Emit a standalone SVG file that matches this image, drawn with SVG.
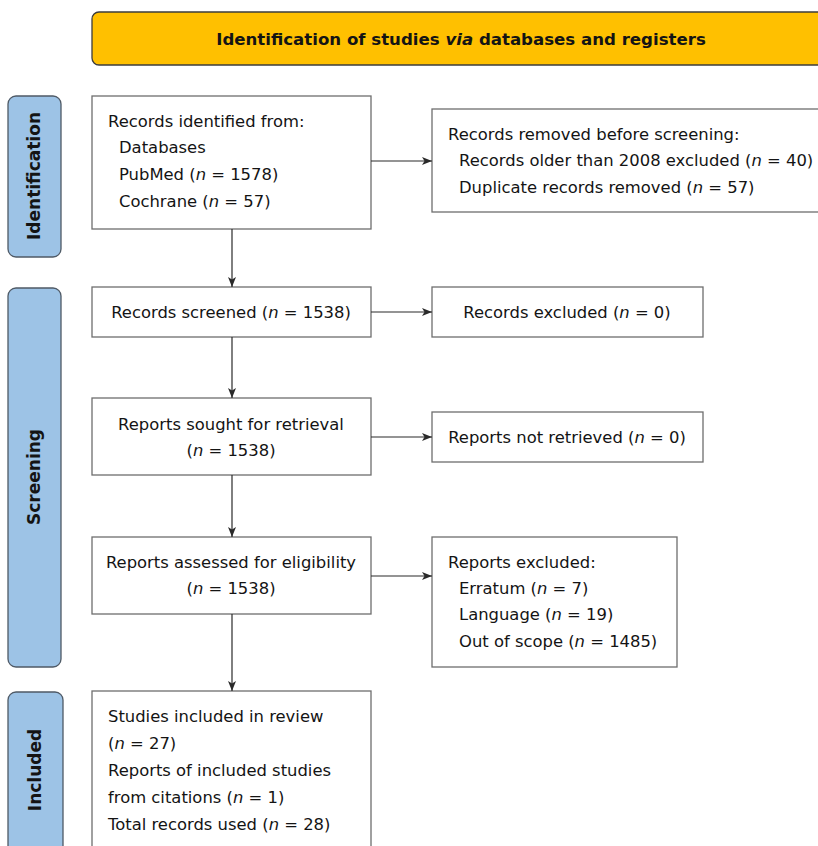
<svg xmlns="http://www.w3.org/2000/svg" width="818" height="846" viewBox="0 0 818 846">
<style>
.box{fill:#fff;stroke:#6e6e6e;stroke-width:1.3}
.bar{fill:#9dc3e6;stroke:#4f5a66;stroke-width:1.3}
.hdr{fill:#ffc000;stroke:#3c3c3c;stroke-width:1.3}
.t{font-family:"DejaVu Sans",Verdana,sans-serif;font-size:16.4px;fill:#141414}
.c{text-anchor:middle}
.b{font-family:"DejaVu Sans",Verdana,sans-serif;font-weight:bold;fill:#141414}
.conn{stroke:#2a2a2a;stroke-width:1.2;fill:none}
</style>
<defs>
<marker id="ah" markerWidth="10" markerHeight="8" refX="10" refY="4" orient="auto" markerUnits="userSpaceOnUse">
<path d="M0,0 L10,4 L0,8 L2.5,4 Z" fill="#2a2a2a"/>
</marker>
</defs>
<g id="header">
<rect class="hdr" x="92" y="12" width="740" height="53" rx="7"/>
<text class="b" x="461" y="45" font-size="16.6" text-anchor="middle">Identification of studies <tspan font-style="italic">via</tspan> databases and registers</text>
</g>
<g id="bar-identification">
<rect class="bar" x="8" y="96" width="53" height="161" rx="8"/>
<text class="b" font-size="17" text-anchor="middle" transform="translate(40,176) rotate(-90)">Identification</text>
</g>
<g id="bar-screening">
<rect class="bar" x="8" y="288" width="53" height="379" rx="8"/>
<text class="b" font-size="17" text-anchor="middle" transform="translate(40,477) rotate(-90)">Screening</text>
</g>
<g id="bar-included">
<rect class="bar" x="8" y="692" width="55" height="170" rx="8"/>
<text class="b" font-size="17" text-anchor="middle" transform="translate(41,770) rotate(-90)">Included</text>
</g>
<g id="identified">
<rect class="box" x="92" y="96" width="279" height="133"/>
<text class="t" x="108" y="127">Records identified from:</text>
<text class="t" x="119" y="153">Databases</text>
<text class="t" x="119" y="180">PubMed (<tspan font-style="italic">n</tspan> = 1578)</text>
<text class="t" x="119" y="207">Cochrane (<tspan font-style="italic">n</tspan> = 57)</text>
</g>
<g id="removed">
<rect class="box" x="432" y="109" width="400" height="103"/>
<text class="t" x="448" y="140">Records removed before screening:</text>
<text class="t" x="459" y="166">Records older than 2008 excluded (<tspan font-style="italic">n</tspan> = 40)</text>
<text class="t" x="459" y="193">Duplicate records removed (<tspan font-style="italic">n</tspan> = 57)</text>
</g>
<g id="screened">
<rect class="box" x="92" y="287" width="279" height="50"/>
<text class="t c" x="231" y="318">Records screened (<tspan font-style="italic">n</tspan> = 1538)</text>
</g>
<g id="excluded">
<rect class="box" x="432" y="287" width="271" height="50"/>
<text class="t c" x="567" y="318">Records excluded (<tspan font-style="italic">n</tspan> = 0)</text>
</g>
<g id="sought">
<rect class="box" x="92" y="398" width="279" height="77"/>
<text class="t c" x="231" y="430">Reports sought for retrieval</text>
<text class="t c" x="231" y="456">(<tspan font-style="italic">n</tspan> = 1538)</text>
</g>
<g id="notretrieved">
<rect class="box" x="432" y="412" width="271" height="50"/>
<text class="t c" x="567" y="443">Reports not retrieved (<tspan font-style="italic">n</tspan> = 0)</text>
</g>
<g id="assessed">
<rect class="box" x="92" y="537" width="279" height="77"/>
<text class="t c" x="231" y="568">Reports assessed for eligibility</text>
<text class="t c" x="231" y="594">(<tspan font-style="italic">n</tspan> = 1538)</text>
</g>
<g id="reportsexcluded">
<rect class="box" x="432" y="537" width="245" height="130"/>
<text class="t" x="448" y="568">Reports excluded:</text>
<text class="t" x="459" y="594">Erratum (<tspan font-style="italic">n</tspan> = 7)</text>
<text class="t" x="459" y="620">Language (<tspan font-style="italic">n</tspan> = 19)</text>
<text class="t" x="459" y="647">Out of scope (<tspan font-style="italic">n</tspan> = 1485)</text>
</g>
<g id="included">
<rect class="box" x="92" y="691" width="279" height="170"/>
<text class="t" x="108" y="722">Studies included in review</text>
<text class="t" x="108" y="749">(<tspan font-style="italic">n</tspan> = 27)</text>
<text class="t" x="108" y="776">Reports of included studies</text>
<text class="t" x="108" y="803">from citations (<tspan font-style="italic">n</tspan> = 1)</text>
<text class="t" x="108" y="830">Total records used (<tspan font-style="italic">n</tspan> = 28)</text>
</g>
<g id="connectors">
<line class="conn" x1="232" y1="229" x2="232" y2="287" marker-end="url(#ah)"/>
<line class="conn" x1="232" y1="337" x2="232" y2="398" marker-end="url(#ah)"/>
<line class="conn" x1="232" y1="475" x2="232" y2="537" marker-end="url(#ah)"/>
<line class="conn" x1="232" y1="614" x2="232" y2="691" marker-end="url(#ah)"/>
<line class="conn" x1="371" y1="161" x2="432" y2="161" marker-end="url(#ah)"/>
<line class="conn" x1="371" y1="312" x2="432" y2="312" marker-end="url(#ah)"/>
<line class="conn" x1="371" y1="437" x2="432" y2="437" marker-end="url(#ah)"/>
<line class="conn" x1="371" y1="576" x2="432" y2="576" marker-end="url(#ah)"/>
</g>
</svg>
